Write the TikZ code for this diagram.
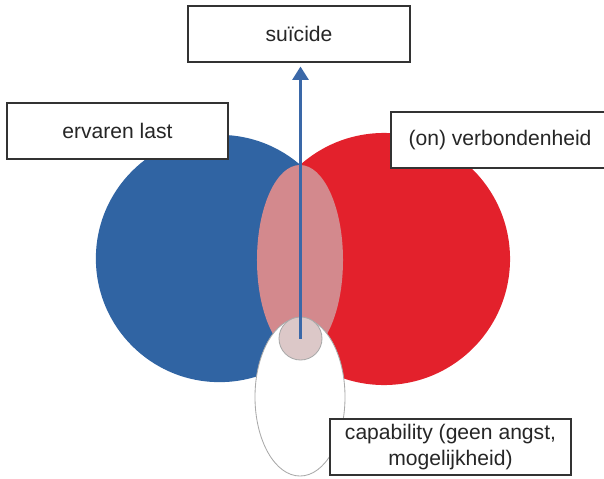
\documentclass[tikz,border=0pt]{standalone}
\usepackage{fontspec}
\setmainfont{Liberation Sans}
\usetikzlibrary{arrows.meta, shapes.geometric}
\definecolor{lastc}{HTML}{3064A3}
\definecolor{verbc}{HTML}{E3212C}
\definecolor{overlapc}{HTML}{D3898D}
\definecolor{capc}{HTML}{DCC8C8}
\definecolor{rimc}{HTML}{A9A9A9}
\definecolor{arrowc}{HTML}{3A68A8}
\definecolor{boxline}{HTML}{333333}
\tikzset{
  lbox/.style={draw=boxline, fill=white, line width=0.8pt, inner sep=0pt,
               minimum height=1.4cm, align=center, text=black!85,
               font=\fontsize{15}{18}\selectfont},
  blob/.style={circle, inner sep=0pt},
  rim/.style={draw=rimc, line width=0.6pt},
  arr/.style={-{Triangle[length=3.3mm, width=4mm]}, line width=1.6pt},
}

\begin{document}
\begin{tikzpicture}[x=0.025cm, y=-0.025cm]
\useasboundingbox (0,0) rectangle (604,479);
% the two big circles
\node[blob, fill=lastc, minimum size=6.18cm] (last) at (219.5,258.5) {};
\node[blob, fill=verbc, minimum size=6.3cm] (verb) at (384,259) {};
% the overlap and the capability part
\node[ellipse, inner sep=0pt, fill=overlapc, minimum width=2.15cm, minimum height=4.75cm] (mid) at (300,260) {};
\node[ellipse, inner sep=0pt, fill=white, rim, minimum width=2.25cm, minimum height=3.95cm] (capell) at (300,397) {};
\node[blob, fill=capc, rim, minimum size=1.075cm] (core) at (300.5,338.5) {};
% the labels
\node[lbox, minimum width=5.55cm] (suicide) at (299,34) {su\"icide};
\node[lbox, minimum width=5.525cm] (ervaren) at (117.5,131) {ervaren last};
\node[lbox, minimum width=5.45cm] (verbond) at (500,140) {(on) verbondenheid};
\node[lbox, minimum width=6.025cm] (capab) at (450.5,447) {capability (geen angst,\\[1pt]mogelijkheid)};
\draw[arr, arrowc] (core.center) -- ([yshift=-0.1cm]suicide.south -| core.center);
\end{tikzpicture}
\end{document}
